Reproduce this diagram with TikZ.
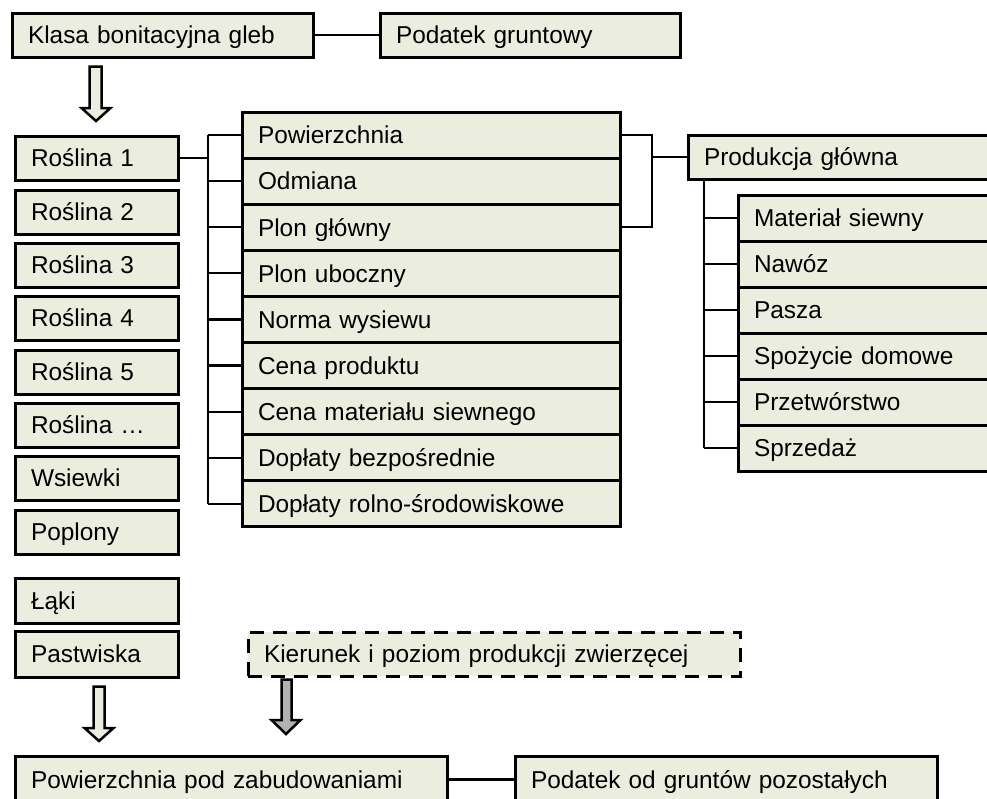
\documentclass[tikz,border=0pt]{standalone}
\usepackage{fontspec}
\setmainfont{Liberation Sans}
\definecolor{cellfill}{RGB}{235,237,222}
\definecolor{arrowgrey}{RGB}{178,178,178}
\tikzset{
  cell/.style={draw=black, fill=cellfill, line width=3pt, anchor=north west,
    inner xsep=16pt, inner ysep=0pt, align=left,
    font=\fontsize{24.4}{28}\selectfont, text height=17.5pt, text depth=0pt},
  dashcell/.style={cell, dash pattern=on 14pt off 9pt},
  link/.style={draw=black, line width=2.2pt},
  blockarrow/.style={draw=black, line width=2.5pt, line join=miter, fill=cellfill},
  greyarrow/.style={blockarrow, fill=arrowgrey},
}
\begin{document}
\begin{tikzpicture}[x=1pt, y=-1pt]
\useasboundingbox (0,0) rectangle (987,798);
\clip (0,0) rectangle (987,798);

% top row
\node[cell, minimum width=301pt, minimum height=44pt, text width=269pt] (klasa) at (10.5,11.5) {Klasa bonitacyjna gleb};
\node[cell, minimum width=300pt, minimum height=44pt, text width=268pt] (podatek) at (378.5,11.5) {Podatek gruntowy};
\draw[link] (klasa.east) -- (podatek.west);

% crops column
\foreach \i/\y/\t in {1/134.5/Roślina 1, 2/188.5/Roślina 2, 3/241.5/Roślina 3, 4/294.5/Roślina 4,
                      5/348.5/Roślina 5, 6/401.5/Roślina …, 7/454.5/Wsiewki, 8/508.5/Poplony}
  \node[cell, minimum width=163pt, minimum height=44pt, text width=131pt] (r\i) at (13.5,\y) {\t};
\node[cell, minimum width=163pt, minimum height=45pt, text width=131pt] (laki) at (13.5,576.5) {Łąki};
\node[cell, minimum width=163pt, minimum height=46pt, text width=131pt] (pastw) at (13.5,629.5) {Pastwiska};

% attributes column
\foreach \i/\y/\t in {1/110.5/Powierzchnia, 2/156.6/Odmiana, 3/202.7/Plon główny, 4/248.8/Plon uboczny,
                      5/294.9/Norma wysiewu, 6/341.0/Cena produktu, 7/387.1/Cena materiału siewnego,
                      8/433.2/Dopłaty bezpośrednie, 9/479.3/Dopłaty rolno-środowiskowe}
  \node[cell, minimum width=378pt, minimum height=46.1pt, text width=346pt] (m\i) at (240.5,\y) {\t};

% main production and its uses
\node[cell, minimum width=313.5pt, minimum height=44pt, text width=281.5pt] (prod) at (686.5,133.5) {Produkcja główna};
\foreach \i/\y/\t in {1/193.5/Materiał siewny, 2/239.5/Nawóz, 3/285.5/Pasza, 4/331.5/Spożycie domowe,
                      5/377.5/Przetwórstwo, 6/423.5/Sprzedaż}
  \node[cell, minimum width=263.5pt, minimum height=46pt, text width=231.5pt] (s\i) at (736.5,\y) {\t};

% animal production (dashed)
\node[dashcell, minimum width=492pt, minimum height=44pt, text width=460pt] (kier) at (246.5,630.5) {Kierunek i poziom produkcji zwierzęcej};

% bottom row
\node[cell, minimum width=432pt, minimum height=47pt, text width=400pt] (zabud) at (13.5,754.5) {Powierzchnia pod zabudowaniami};
\node[cell, minimum width=422pt, minimum height=47pt, text width=390pt] (pozost) at (513.5,754.5) {Podatek od gruntów pozostałych};
\draw[link] (zabud.east) -- (pozost.west);

% bracket: crop -> attributes
\coordinate (lbar) at (208,0);
\draw[link] (r1.east) -- (r1.east -| lbar);
\draw[link] (lbar |- m1.west) -- (lbar |- m9.west);
\foreach \i in {1,...,9}
  \draw[link] (lbar |- m\i.west) -- (m\i.west);

% bracket: yield -> main production
\coordinate (rbar) at (652,0);
\draw[link] (m1.east) -- (m1.east -| rbar) -- (m3.east -| rbar) -- (m3.east);
\draw[link] (prod.west -| rbar) -- (prod.west);

% main production -> uses
\coordinate (sbar) at (704,0);
\draw[link] (sbar |- prod.south) -- (sbar |- s6.west);
\foreach \i in {1,...,6}
  \draw[link] (sbar |- s\i.west) -- (s\i.west);

% block arrows
\draw[blockarrow] (89.5,66.5) -- (101.5,66.5) -- (101.5,108) -- (110.5,108) -- (96,121)
  -- (81.5,108) -- (89.5,108) -- cycle;
\draw[blockarrow] (93.5,686.5) -- (104.5,686.5) -- (104.5,728) -- (113.5,728) -- (99,741)
  -- (84.5,728) -- (93.5,728) -- cycle;
\draw[greyarrow] (281.5,679.5) -- (291.5,679.5) -- (291.5,720) -- (300.5,720) -- (286,734)
  -- (271.5,720) -- (281.5,720) -- cycle;
\end{tikzpicture}
\end{document}
